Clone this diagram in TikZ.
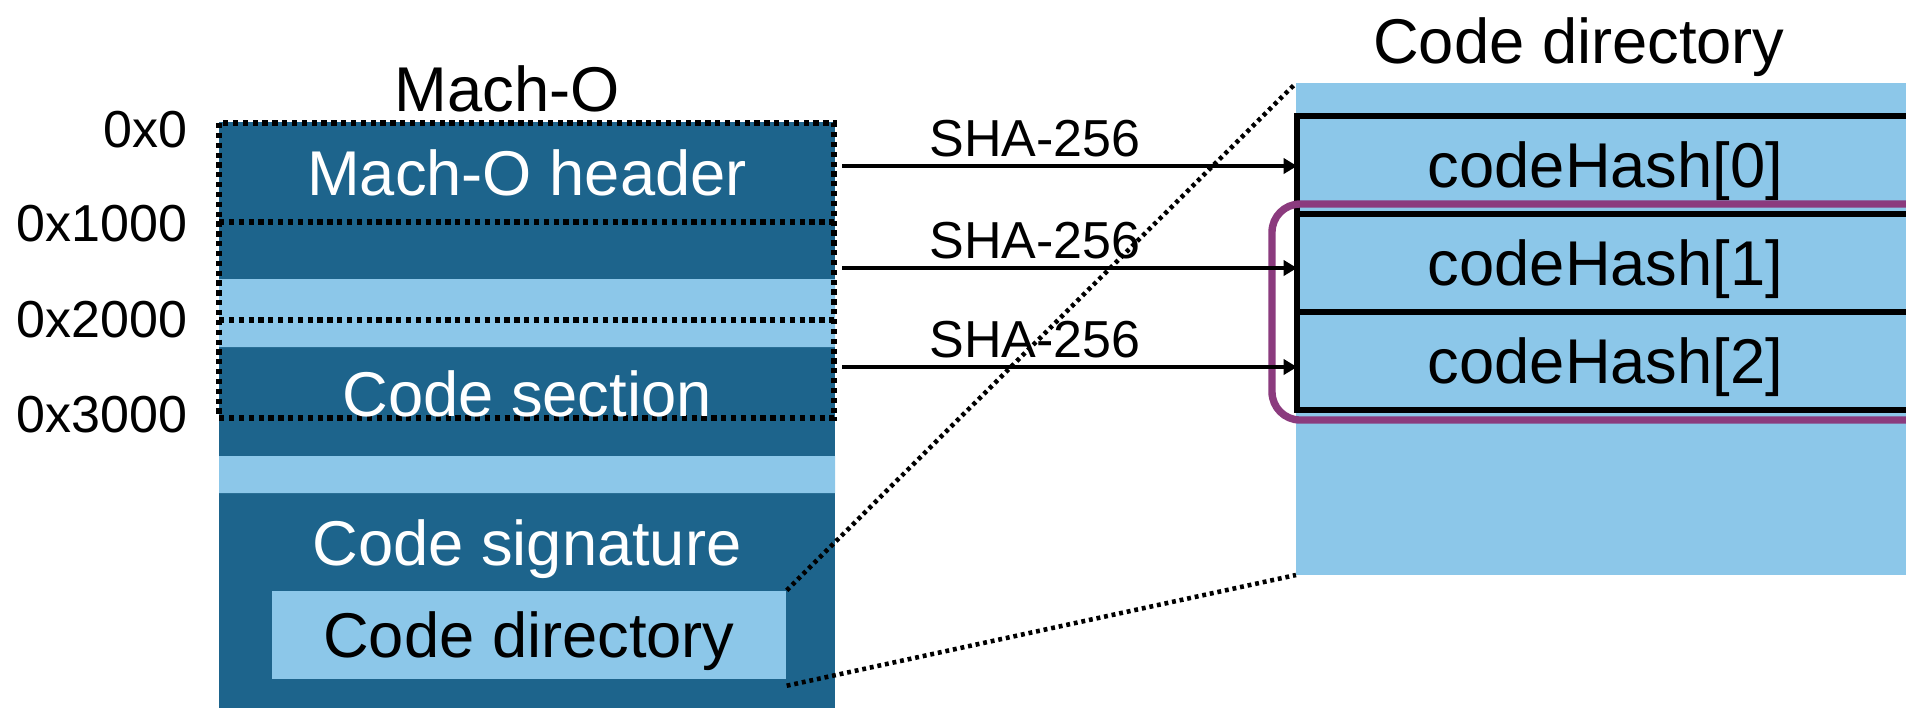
\documentclass[tikz,border=0pt]{standalone}
\usepackage{fontspec}
\setmainfont{Liberation Sans}
\usetikzlibrary{positioning,fit,arrows.meta}
\definecolor{machodark}{RGB}{29,100,140}
\definecolor{macholight}{RGB}{140,199,233}
\definecolor{selpurple}{RGB}{139,59,126}

\begin{document}
\begin{tikzpicture}[x=0.1mm, y=-0.1mm, >={Triangle[length=3.8pt,width=4.3pt]}]
	\tikzset{big/.style={font=\fontsize{18}{22}\selectfont, text height=12.9pt, text depth=0pt, inner sep=0pt},
		small/.style={font=\fontsize{14.8}{18}\selectfont, inner sep=0pt},
		hashrow/.style={big, draw, line width=1.5pt, minimum width=61.7mm, minimum height=9.8mm, outer sep=0pt},
		frame/.style={line width=1.6pt, dash pattern=on 1.5pt off 1.3pt},
		dots/.style={line width=1.3pt, dash pattern=on 1.1pt off 1.1pt},
		hasharrow/.style={->, line width=1pt}}
	\useasboundingbox (0,0) rectangle (1906,708);
	% Mach-O file
	\fill[machodark] (219,122) rectangle (835,708);
	\fill[macholight] (219,279) rectangle (835,347) (219,456) rectangle (835,493);
	\draw[frame] (219,123) rectangle (834,418) (219,222) -- (834,222) (219,320) -- (834,320);
	\node[big] (machotitle) at (507,89) {Mach-O};
	\node[big, text=white] (hdr) at (527,173) {Mach-O header};
	\node[big, text=white] (sect) at (527,394) {Code section};
	\node[big, text=white] (sig) at (527,543) {Code signature};
	\node[big, fill=macholight, minimum width=51.4mm, minimum height=8.8mm] (cdsmall) at (529,635) {Code directory};
	\foreach \a/\y [count=\k] in {0x0/129.5, 0x1000/224, 0x2000/320, 0x3000/415}
		\node[small, anchor=east] (addr\k) at (188,\y) {\a};
	% code directory
	\node[big] (cdtitle) at (1579,41) {Code directory};
	\node[fill=macholight, inner sep=0pt, outer sep=0pt, minimum width=63.4mm, minimum height=49.2mm, anchor=north west] (cdbig) at (1296,83) {};
	\node[hashrow, anchor=north west] (hash0) at (1297,116) {codeHash[0]};
	\node[hashrow, below=0pt of hash0] (hash1) {codeHash[1]};
	\node[hashrow, below=0pt of hash1] (hash2) {codeHash[2]};
	\node[draw=selpurple, line width=2.1pt, rounded corners=8pt, inner xsep=2.5mm, inner ysep=1mm, fit=(hash1)(hash2)] (sel) {};
	% hashes
	\foreach \i/\y in {0/166, 1/268, 2/367} {
		\coordinate (src\i) at (842,\y);
		\draw[hasharrow] (src\i) -- (src\i -| hash\i.west) node[small, pos=0.424, anchor=south, inner sep=2pt] {SHA-256};
	}
	\draw[dots] (cdsmall.north east) -- (cdbig.north west);
	\draw[dots] ([yshift=-0.6mm]cdsmall.south east) -- (cdbig.south west);
\end{tikzpicture}
\end{document}
